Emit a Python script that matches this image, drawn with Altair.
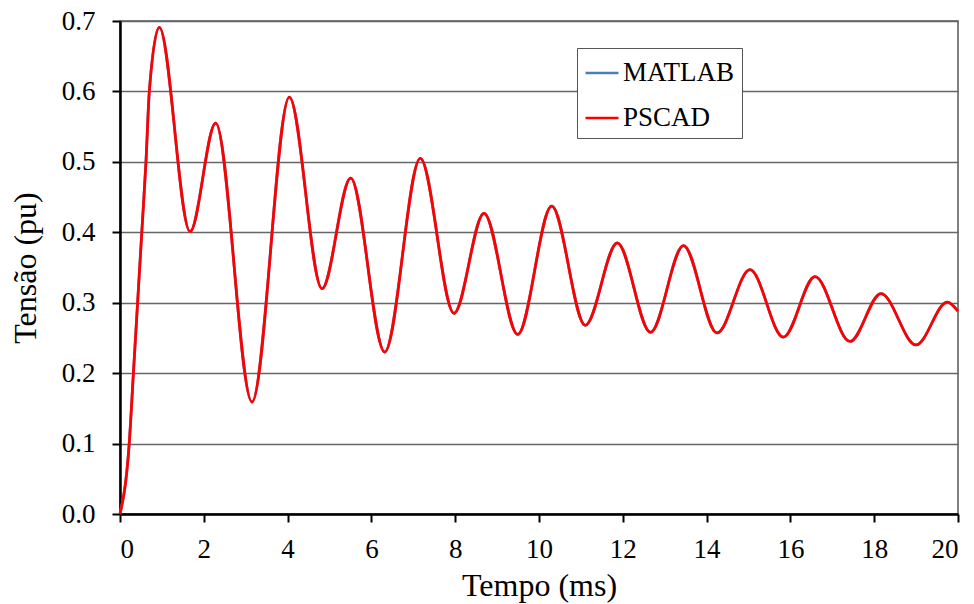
import altair as alt
import pandas as pd

# Values (time in ms, voltage in pu)
time_ms = [0.0, 0.22, 0.32, 0.42, 0.52, 0.62, 0.70, 0.938, 1.671, 2.284, 3.150,
           4.041, 4.821, 5.506, 6.317, 7.167, 7.971, 8.687, 9.492, 10.303,
           11.105, 11.869, 12.661, 13.449, 14.248, 15.036, 15.831, 16.587,
           17.422, 18.162, 18.998, 19.745, 20.0]
pscad_pu = [0.0, 0.10, 0.20, 0.30, 0.40, 0.50, 0.60, 0.691, 0.401, 0.555, 0.159,
            0.592, 0.320, 0.477, 0.230, 0.505, 0.285, 0.427, 0.255, 0.437,
            0.268, 0.385, 0.258, 0.381, 0.257, 0.347, 0.251, 0.337,
            0.245, 0.313, 0.240, 0.301, 0.288]
matlab_pu = list(pscad_pu)  # MATLAB curve lies exactly under the PSCAD curve

series_names = ["MATLAB", "PSCAD"]
series_colors = ["#4a7ebb", "#ff0000"]
x_ticks = [0, 2, 4, 6, 8, 10, 12, 14, 16, 18, 20]
y_ticks = [0.0, 0.1, 0.2, 0.3, 0.4, 0.5, 0.6, 0.7]

df_matlab = pd.DataFrame({"t": time_ms, "v": matlab_pu, "serie": series_names[0]})
df_pscad = pd.DataFrame({"t": time_ms, "v": pscad_pu, "serie": series_names[1]})

FONT = "'Liberation Serif', 'Times New Roman', Times, serif"

x_enc = alt.X(
    "t:Q",
    scale=alt.Scale(domain=[0, 20], nice=False),
    axis=alt.Axis(
        values=x_ticks, title="Tempo (ms)", grid=False,
        labelFont=FONT, labelFontSize=27, labelColor="black", labelPadding=14,
        tickSize=8, tickColor="black", tickWidth=2,
        domainColor="black", domainWidth=2.5,
        titleFont=FONT, titleFontSize=32, titleFontWeight="normal", titleColor="black",
        titleY=81.5, titleX=419, titleBaseline="alphabetic", titleAlign="center",
    ),
)
y_enc = alt.Y(
    "v:Q",
    scale=alt.Scale(domain=[0, 0.7], nice=False),
    axis=alt.Axis(
        values=y_ticks, format=".1f", title="Tensão (pu)",
        grid=True, gridColor="#666666", gridWidth=1.5,
        labelFont=FONT, labelFontSize=27, labelColor="black", labelPadding=17,
        tickSize=8, tickColor="black", tickWidth=2,
        domainColor="black", domainWidth=2.5,
        titleFont=FONT, titleFontSize=32, titleFontWeight="normal", titleColor="black",
        titleX=-85, titleY=246.5, titleAngle=270, titleBaseline="alphabetic",
        titleAlign="center",
    ),
)

color_scale = alt.Scale(domain=series_names, range=series_colors)
legend = alt.Legend(
    title=None, orient="none", legendX=457, legendY=27,
    labelFont=FONT, labelFontSize=27, labelColor="black", labelOffset=3,
    symbolType="stroke", symbolSize=1089, symbolStrokeWidth=2.5,
    fillColor="white", strokeColor="#555555", padding=7, rowPadding=14,
)
color_enc = alt.Color("serie:N", scale=color_scale, legend=legend)

matlab_line = alt.Chart(df_matlab).mark_line(
    strokeWidth=2.75, interpolate="monotone"
).encode(x=x_enc, y=y_enc, color=color_enc)
pscad_line = alt.Chart(df_pscad).mark_line(
    strokeWidth=2.75, interpolate="monotone"
).encode(x=x_enc, y=y_enc, color=color_enc)

chart = alt.layer(matlab_line, pscad_line).properties(
    width=838, height=493,
    autosize=alt.AutoSizeParams(type="none"),
    padding={"left": 120, "top": 21, "right": 16, "bottom": 90},
    background="white",
).configure_view(
    stroke="#555555", strokeWidth=1.5
)

chart.save("out.html", embed_options={"renderer": "svg", "actions": False})
